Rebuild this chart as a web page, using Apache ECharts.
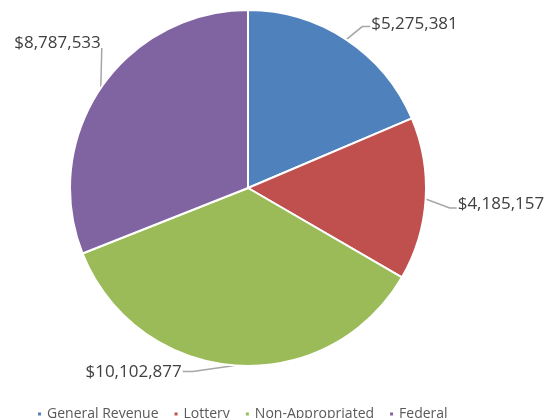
<!DOCTYPE html>
<html><head><meta charset="utf-8">
<script src="https://cdn.jsdelivr.net/npm/echarts@6/dist/echarts.min.js"></script>
<style>html,body{margin:0;padding:0;background:#fff}#c{width:548px;height:418px}</style>
</head><body><div id="c"></div>
<script>
const categories = ["General Revenue", "Lottery", "Non-Appropriated", "Federal"];
const values = [5275381, 4185157, 10102877, 8787533];
const colors = ["#4F81BD", "#C0504D", "#9BBB59", "#8064A2"];

// leader-line styling offsets relative to the slice edge point
const leaderStyle = [
  {bend: [16, -13], tail: 8, align: 'left', textDy: -2},
  {bend: [24, 9], tail: 7, align: 'left', textDy: -4},
  {bend: [-42, 6], tail: -10, align: 'right', textDy: 1},
  {bend: [1, -40], tail: 0, align: 'right', textDy: -5}
];

const chart = echarts.init(document.getElementById('c'));
chart.setOption({
  animation: false,
  color: colors,
  legend: {
    left: 31, top: 402,
    itemWidth: 5, itemHeight: 5, itemGap: 14,
    icon: 'rect',
    textStyle: {color: '#595959', fontSize: 14, fontFamily: 'Open Sans'},
    data: categories
  },
  series: [{
    type: 'pie',
    center: [248, 188],
    radius: [0, 178],
    startAngle: 90,
    clockwise: true,
    itemStyle: {borderColor: '#fff', borderWidth: 2},
    label: {
      show: true,
      overflow: 'none',
      formatter: p => '$' + p.value.toLocaleString('en-US'),
      color: '#404040', fontSize: 17, fontFamily: 'Open Sans'
    },
    labelLine: {show: true, length: 12, length2: 10, lineStyle: {color: '#A6A6A6', width: 1.5}},
    labelLayout: function (params) {
      const s = leaderStyle[params.dataIndex];
      const pts = params.labelLinePoints;
      if (!pts) return {};
      const p0 = pts[0];
      const p1 = [p0[0] + s.bend[0], p0[1] + s.bend[1]];
      const p2 = [p1[0] + s.tail, p1[1]];
      const gap = s.align === 'left' ? 1 : -1;
      return {
        x: p2[0] + gap,
        y: p2[1] + s.textDy,
        align: s.align,
        verticalAlign: 'middle',
        labelLinePoints: [p0, p1, p2]
      };
    },
    data: categories.map((c, i) => ({name: c, value: values[i]}))
  }]
});
</script></body></html>
